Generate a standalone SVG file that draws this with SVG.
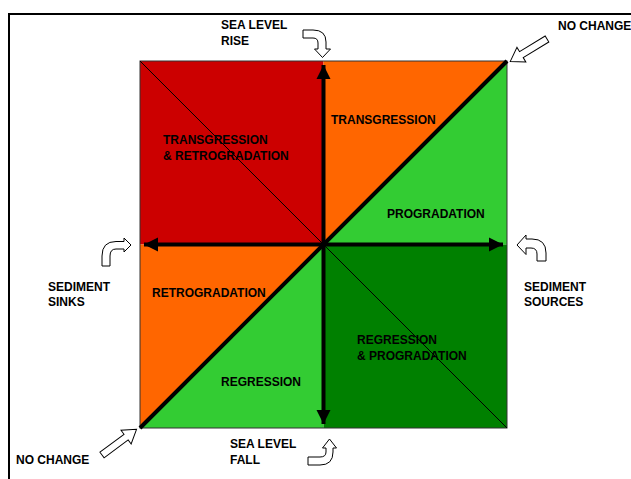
<svg xmlns="http://www.w3.org/2000/svg" width="631" height="479" viewBox="0 0 631 479">
  <style>
    .lbl { font-family: "Liberation Sans", Arial, sans-serif; font-weight: bold; font-size: 12px; fill: #000; }
    .block { fill: #fff; stroke: #000; stroke-width: 1; stroke-linejoin: miter; }
    .axis { stroke: #000; stroke-width: 4; fill: none; }
  </style>
  <defs>
    <marker id="head" viewBox="0 0 10 10" refX="10" refY="5" markerWidth="3.6" markerHeight="3.6" markerUnits="strokeWidth" orient="auto-start-reverse">
      <path d="M0,0 L10,5 L0,10 Z" fill="#000"/>
    </marker>
    <path id="straightArrow" d="M0,-3.5 L30,-3.5 L30,-8.5 L43,0 L30,8.5 L30,3.5 L0,3.5 Z"/>
  </defs>

  <rect width="631" height="479" fill="#fff"/>

  <!-- outer frame -->
  <path d="M9,479 L9,14 L631,14" fill="none" stroke="#000" stroke-width="2"/>

  <!-- quadrant fields -->
  <g id="field-transgression-retrogradation">
    <rect x="140" y="61" width="183.5" height="183.5" fill="#CC0000"/>
  </g>
  <g id="field-transgression">
    <polygon points="323.5,61 507,61 323.5,244.5" fill="#FF6600"/>
  </g>
  <g id="field-progradation">
    <polygon points="507,61 507,244.5 323.5,244.5" fill="#33CC33"/>
  </g>
  <g id="field-retrogradation">
    <polygon points="140,244.5 323.5,244.5 140,428" fill="#FF6600"/>
  </g>
  <g id="field-regression">
    <polygon points="323.5,244.5 323.5,428 140,428" fill="#33CC33"/>
  </g>
  <g id="field-regression-progradation">
    <rect x="323.5" y="244.5" width="183.5" height="183.5" fill="#008000"/>
  </g>
  <rect x="140" y="61" width="367" height="367" fill="none" stroke="#333" stroke-width="1"/>

  <!-- axes and diagonals -->
  <g id="connectors">
    <line x1="140" y1="61" x2="507" y2="428" stroke="#000" stroke-width="1"/>
    <line x1="140" y1="428" x2="507" y2="61" stroke="#000" stroke-width="4"/>
    <line class="axis" x1="323.5" y1="65" x2="323.5" y2="424" marker-start="url(#head)" marker-end="url(#head)"/>
    <line class="axis" x1="144" y1="244.5" x2="503" y2="244.5" marker-start="url(#head)" marker-end="url(#head)"/>
  </g>

  <!-- direction arrows -->
  <g id="arrow-rise">
    <path class="block" d="M303,30 L313,30 Q326,30 326,42 L326,49 L330.5,49 L322.5,57.5 L314.5,49 L318,49 L318,43 Q318,38 313,38 L303,38 Z"/>
  </g>
  <g id="arrow-fall">
    <path class="block" d="M308,465 L320,465 Q333,465 333,452 L333,448 L336.5,448 L329.5,439 L322.5,448 L326,448 L326,452 Q326,457 320,457 L308,457 Z"/>
  </g>
  <g id="arrow-sinks">
    <path class="block" d="M102,266 L102,256 Q102,241.5 116,241.5 L124,241.5 L124,238 L131,245 L124,252 L124,249 L116,249 Q110,249 110,256 L110,266 Z"/>
  </g>
  <g id="arrow-sources">
    <path class="block" d="M517,245 L526,235 L526,239 L532,239 Q546,239 546,253 L546,261 L537,261 L537,254 Q537,248 531,248 L526,248 L526,254.5 Z"/>
  </g>
  <g id="arrow-nochange-top">
    <use href="#straightArrow" class="block" transform="translate(547,39) rotate(148.6)"/>
  </g>
  <g id="arrow-nochange-bottom">
    <use href="#straightArrow" class="block" transform="translate(102,455) rotate(-36.6)"/>
  </g>

  <!-- labels -->
  <g id="label-sea-level-rise">
    <text class="lbl" x="221" y="29">SEA LEVEL</text>
    <text class="lbl" x="221" y="45">RISE</text>
  </g>
  <g id="label-no-change-top">
    <text class="lbl" x="558" y="30">NO CHANGE</text>
  </g>
  <g id="label-transgression">
    <text class="lbl" x="331" y="124">TRANSGRESSION</text>
  </g>
  <g id="label-transgression-retrogradation">
    <text class="lbl" x="163" y="144">TRANSGRESSION</text>
    <text class="lbl" x="163" y="160">&amp; RETROGRADATION</text>
  </g>
  <g id="label-progradation">
    <text class="lbl" x="387" y="218">PROGRADATION</text>
  </g>
  <g id="label-sediment-sinks">
    <text class="lbl" x="48" y="291">SEDIMENT</text>
    <text class="lbl" x="48" y="306">SINKS</text>
  </g>
  <g id="label-sediment-sources">
    <text class="lbl" x="524" y="291">SEDIMENT</text>
    <text class="lbl" x="524" y="306">SOURCES</text>
  </g>
  <g id="label-retrogradation">
    <text class="lbl" x="152" y="297">RETROGRADATION</text>
  </g>
  <g id="label-regression-progradation">
    <text class="lbl" x="357" y="344">REGRESSION</text>
    <text class="lbl" x="357" y="360">&amp; PROGRADATION</text>
  </g>
  <g id="label-regression">
    <text class="lbl" x="221" y="386">REGRESSION</text>
  </g>
  <g id="label-sea-level-fall">
    <text class="lbl" x="230" y="448">SEA LEVEL</text>
    <text class="lbl" x="230" y="464">FALL</text>
  </g>
  <g id="label-no-change-bottom">
    <text class="lbl" x="16" y="464">NO CHANGE</text>
  </g>
</svg>
